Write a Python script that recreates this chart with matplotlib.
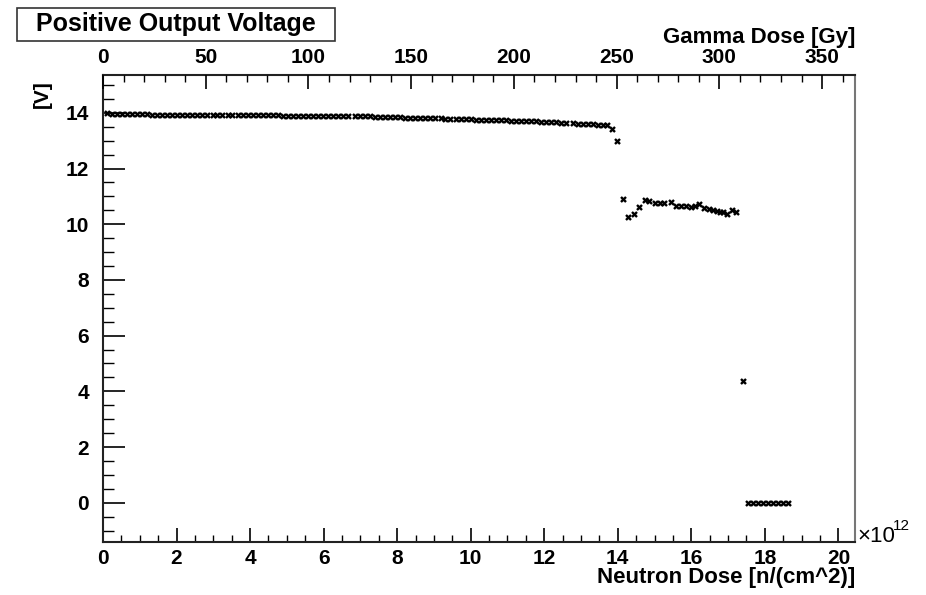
import matplotlib
matplotlib.use("Agg")
import matplotlib.pyplot as plt
from matplotlib.patches import Rectangle
from matplotlib.ticker import MultipleLocator

plt.rcParams['font.family'] = ['Liberation Sans', 'DejaVu Sans']
plt.rcParams['font.weight'] = 'bold'

# neutron dose in units of 1e12 n/cm^2, output voltage in V
dose_a = [0.10, 0.24, 0.37, 0.51, 0.65, 0.78, 0.92, 1.06, 1.20, 1.33,
          1.47, 1.61, 1.74, 1.88, 2.02, 2.15, 2.29, 2.43, 2.57, 2.70,
          2.84, 2.98, 3.11, 3.25, 3.39, 3.52, 3.66, 3.80, 3.94, 4.07,
          4.21, 4.35, 4.48, 4.62, 4.76, 4.89, 5.03, 5.17, 5.31, 5.44,
          5.58, 5.72, 5.85, 5.99, 6.13, 6.26, 6.40, 6.54, 6.67]
volt_a = [13.98, 13.97, 13.97, 13.96, 13.96, 13.95, 13.95, 13.95, 13.95, 13.94,
          13.94, 13.94, 13.94, 13.94, 13.93, 13.93, 13.93, 13.93, 13.93, 13.93,
          13.92, 13.92, 13.92, 13.92, 13.92, 13.92, 13.92, 13.91, 13.91, 13.91,
          13.91, 13.91, 13.91, 13.91, 13.91, 13.90, 13.90, 13.90, 13.90, 13.90,
          13.90, 13.90, 13.90, 13.89, 13.89, 13.89, 13.89, 13.89, 13.89]

dose_b = [6.85, 6.99, 7.12, 7.26, 7.40, 7.53, 7.67, 7.81, 7.94, 8.08,
          8.22, 8.36, 8.49, 8.63, 8.77, 8.90, 9.04, 9.18, 9.31, 9.45,
          9.59, 9.73, 9.86, 10.00, 10.14, 10.27, 10.41, 10.55, 10.68, 10.82,
          10.96, 11.10, 11.23, 11.37, 11.51, 11.64, 11.78, 11.92, 12.05, 12.19,
          12.33, 12.46, 12.60]
volt_b = [13.88, 13.88, 13.87, 13.87, 13.86, 13.86, 13.85, 13.85, 13.84, 13.84,
          13.83, 13.83, 13.82, 13.82, 13.81, 13.81, 13.80, 13.80, 13.79, 13.79,
          13.78, 13.78, 13.77, 13.77, 13.76, 13.76, 13.75, 13.75, 13.74, 13.73,
          13.73, 13.72, 13.72, 13.71, 13.70, 13.70, 13.69, 13.68, 13.67, 13.66,
          13.66, 13.65, 13.64]

dose_c = [12.78, 12.92, 13.05, 13.19, 13.33, 13.46, 13.60, 13.72, 13.85, 13.98]
volt_c = [13.62, 13.61, 13.61, 13.60, 13.59, 13.58, 13.57, 13.55, 13.43, 13.00]

dose_d = [14.14, 14.29, 14.43, 14.59, 14.73, 14.86, 15.00, 15.14, 15.27, 15.45,
          15.59, 15.72, 15.86, 16.00, 16.10, 16.22, 16.34, 16.47, 16.58, 16.69,
          16.77, 16.86, 16.96, 17.10, 17.22]
volt_d = [10.90, 10.27, 10.37, 10.63, 10.87, 10.84, 10.78, 10.77, 10.78, 10.81,
          10.66, 10.66, 10.66, 10.63, 10.67, 10.73, 10.60, 10.55, 10.51, 10.49,
          10.45, 10.43, 10.36, 10.50, 10.45]

dose_e = [17.40, 17.53, 17.67, 17.80, 17.94, 18.08, 18.21, 18.35, 18.48, 18.62]
volt_e = [4.38, -0.02, -0.02, -0.02, -0.02, -0.02, -0.02, -0.02, -0.02, -0.02]

dose = dose_a + dose_b + dose_c + dose_d + dose_e
volt = volt_a + volt_b + volt_c + volt_d + volt_e

fig = plt.figure(figsize=(9.26, 5.95), dpi=100)
ax = fig.add_axes([0.1112, 0.0886, 0.8121, 0.7854])

ax.scatter(dose, volt, marker='x', s=13, linewidths=1.7, color='black', zorder=3)

ax.set_xlim(0, 20.45)
ax.set_ylim(-1.42, 15.36)
ax.xaxis.set_major_locator(MultipleLocator(2))
ax.xaxis.set_minor_locator(MultipleLocator(0.5))
ax.yaxis.set_major_locator(MultipleLocator(2))
ax.yaxis.set_minor_locator(MultipleLocator(0.5))
ax.set_yticks(range(0, 15, 2))
ax.set_yticklabels([str(v) for v in range(0, 15, 2)])
ax.tick_params(axis='x', which='major', direction='in', length=10, width=1.2,
               labelsize=15, pad=5, top=False)
ax.tick_params(axis='x', which='minor', direction='in', length=5, width=1.0, top=False)
ax.tick_params(axis='y', which='major', direction='in', length=16, width=1.2,
               labelsize=15, pad=10, right=False)
ax.tick_params(axis='y', which='minor', direction='in', length=8, width=1.0, right=False)
for side in ['left', 'bottom', 'top']:
    ax.spines[side].set_linewidth(1.5)
    ax.spines[side].set_color('#222222')
ax.spines['right'].set_linewidth(1.5)
ax.spines['right'].set_color('#777777')

# gamma dose scale along the top
top = ax.twiny()
top.set_xlim(0, 366)
top.xaxis.set_major_locator(MultipleLocator(50))
top.xaxis.set_minor_locator(MultipleLocator(10))
top.tick_params(axis='x', which='major', direction='in', length=10, width=1.2,
                labelsize=15, pad=6)
top.tick_params(axis='x', which='minor', direction='in', length=5, width=1.0)
for sp in top.spines.values():
    sp.set_visible(False)

fig.text(855 / 926, 1 - 37 / 595, 'Gamma Dose [Gy]', ha='right', va='center',
         fontsize=16, fontweight='bold')
fig.text(855 / 926, 1 - 578 / 595, 'Neutron Dose [n/(cm^2)]', ha='right', va='center',
         fontsize=16, fontweight='bold')
# exponent of the bottom axis
fig.text(857 / 926, 1 - 537 / 595, '\u00d710', ha='left', va='center',
         fontsize=16, fontweight='normal')
fig.text(893 / 926, 1 - 526 / 595, '12', ha='left', va='center',
         fontsize=11, fontweight='normal')
fig.text(42 / 926, 1 - 94 / 595, '[V]', ha='center', va='center', rotation=90,
         fontsize=15, fontweight='bold')

# title box
fig.patches.append(Rectangle((17 / 926, 1 - 40.5 / 595), 318 / 926, 32.5 / 595,
                             transform=fig.transFigure, fill=False,
                             edgecolor='#333333', linewidth=1.2))
fig.text(176 / 926, 1 - 24 / 595, 'Positive Output Voltage', ha='center', va='center',
         fontsize=18, fontweight='bold')

fig.savefig('out.png', dpi=100)
